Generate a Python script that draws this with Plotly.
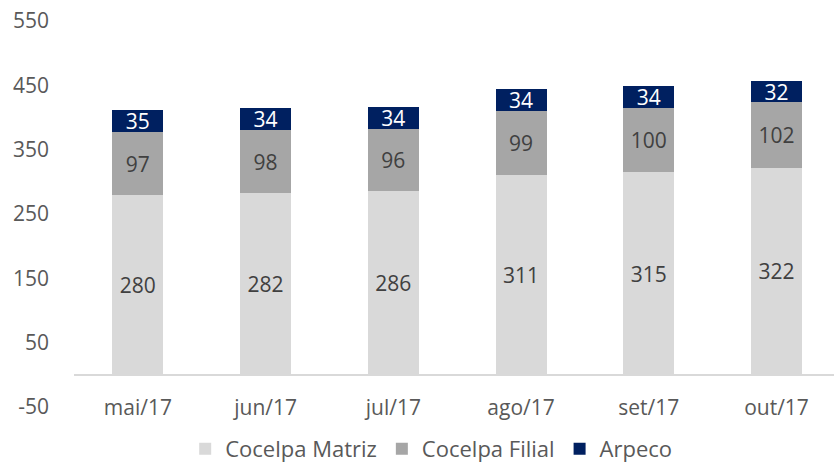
import plotly.graph_objects as go

months = ["mai/17", "jun/17", "jul/17", "ago/17", "set/17", "out/17"]
matriz = [280, 282, 286, 311, 315, 322]
filial = [97, 98, 96, 99, 100, 102]
arpeco = [35, 34, 34, 34, 34, 32]
y_ticks = [-50, 50, 150, 250, 350, 450, 550]
y_tick_text = ["-50", "50", "150", "250", "350", "450", "550"]

FONT = "Open Sans"
fig = go.Figure()
series = [
    ("Cocelpa Matriz", matriz, "#D9D9D9", "#404040"),
    ("Cocelpa Filial", filial, "#A6A6A6", "#404040"),
    ("Arpeco", arpeco, "#002060", "#FFFFFF"),
]
for name, vals, col, tcol in series:
    fig.add_trace(go.Bar(
        name=name, x=months, y=vals, marker=dict(color=col, line=dict(width=0)),
        width=0.4, text=[str(v) for v in vals], textposition="inside",
        insidetextanchor="middle", textangle=0,
        textfont=dict(family=FONT, size=21, color=tcol),
    ))

fig.update_layout(
    barmode="stack",
    width=834, height=470,
    margin=dict(l=74, r=0, t=21, b=63, autoexpand=False),
    plot_bgcolor="white", paper_bgcolor="white",
    font=dict(family=FONT, size=21, color="#595959"),
    uniformtext=dict(minsize=21, mode="show"),
    showlegend=True,
    legend=dict(orientation="h", x=0.47, xanchor="center", y=0, yref="container",
                yanchor="bottom", valign="middle",
                font=dict(family=FONT, size=22, color="#595959"),
                traceorder="normal", itemwidth=30, borderwidth=0,
                bgcolor="rgba(0,0,0,0)"),
    xaxis=dict(range=[-0.5, 5.45], showgrid=False, showline=False, ticks="",
               tickfont=dict(family=FONT, size=21, color="#595959"),
               ticklabelstandoff=-14),
    yaxis=dict(range=[-50, 550], tickvals=y_ticks, ticktext=y_tick_text,
               showgrid=False, showline=False,
               zeroline=True, zerolinecolor="#D9D9D9", zerolinewidth=1.5,
               tickfont=dict(family=FONT, size=21, color="#595959"),
               ticks="", ticklabelstandoff=24),
)
fig.write_html("out.html")
